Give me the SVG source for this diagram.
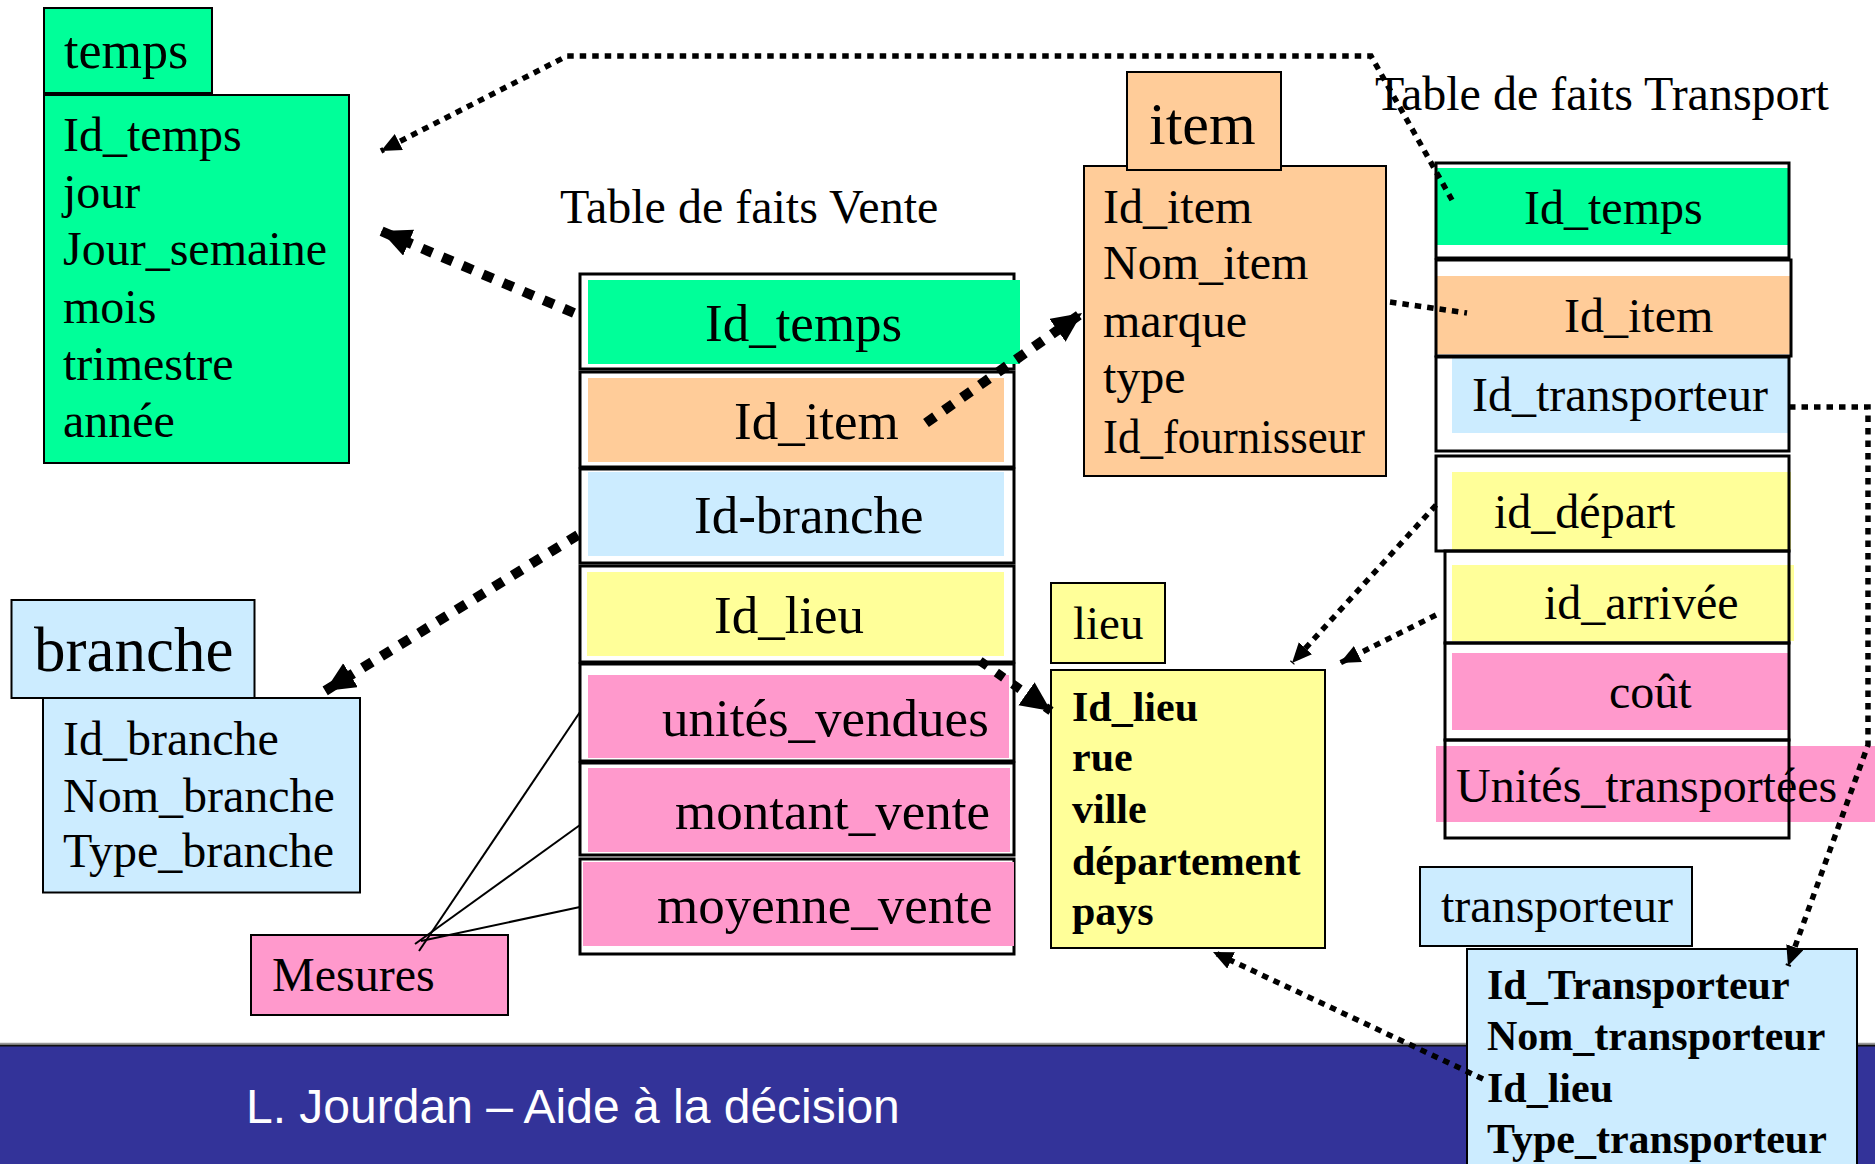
<svg xmlns="http://www.w3.org/2000/svg" width="1875" height="1164" viewBox="0 0 1875 1164">
  <style>
    text { font-family: "Liberation Serif", "Times New Roman", serif; fill: #000; }
    .f48 { font-size: 48px; }
    .f53 { font-size: 53px; }
    .b42 { font-size: 42px; font-weight: bold; }
    .box { stroke: #000; stroke-width: 2; }
    .cell { fill: none; stroke: #000; stroke-width: 3; }
    .green { fill: #00FF99; }
    .orange { fill: #FFCC99; }
    .blue { fill: #CCECFF; }
    .yellow { fill: #FFFF99; }
    .pink { fill: #FF99CC; }
    .dot { fill: none; stroke: #000; }
    .thick { stroke-width: 10; stroke-dasharray: 11 11; }
    .thin { stroke-width: 5.5; stroke-dasharray: 6.5 6; }
    .med { stroke-width: 9; stroke-dasharray: 9 11; }
    .mline { fill: none; stroke: #000; stroke-width: 2; }
  </style>
  <defs>
    <marker id="headL" markerUnits="userSpaceOnUse" markerWidth="32" markerHeight="30" refX="30" refY="14" orient="auto">
      <path d="M0,0 L30,14 L0,28 z" fill="#000"/>
    </marker>
    <marker id="headS" markerUnits="userSpaceOnUse" markerWidth="22" markerHeight="20" refX="20" refY="9" orient="auto">
      <path d="M0,0 L20,9 L0,18 z" fill="#000"/>
    </marker>
  </defs>

  <rect x="0" y="0" width="1875" height="1164" fill="#fff"/>

  <!-- footer band -->
  <g id="footer">
    <rect x="0" y="1045" width="1875" height="119" fill="#333399"/>
    <line x1="0" y1="1043.5" x2="1875" y2="1043.5" stroke="#999" stroke-width="1.5"/>
    <line x1="0" y1="1045.5" x2="1875" y2="1045.5" stroke="#111" stroke-width="2"/>
    <text x="246" y="1123" style="font-family: 'Liberation Sans', Arial, sans-serif; font-size: 48px; fill: #fff;">L. Jourdan – Aide à la décision</text>
  </g>

  <!-- dimension: temps -->
  <g id="temps">
    <rect class="box green" x="44" y="8" width="168" height="85"/>
    <text x="64" y="68" style="font-size: 52px">temps</text>
    <rect class="box green" x="44" y="95" width="305" height="368"/>
    <text class="f48" x="63" y="151">Id_temps</text>
    <text class="f48" x="63" y="208">jour</text>
    <text class="f48" x="63" y="265">Jour_semaine</text>
    <text class="f48" x="63" y="323">mois</text>
    <text class="f48" x="63" y="380">trimestre</text>
    <text class="f48" x="63" y="437">année</text>
  </g>

  <!-- dimension: item -->
  <g id="item">
    <rect class="box orange" x="1084" y="166" width="302" height="310"/>
    <rect class="box orange" x="1127" y="72" width="154" height="98"/>
    <text x="1149" y="144" style="font-size: 60px">item</text>
    <text class="f48" x="1103" y="223">Id_item</text>
    <text class="f48" x="1103" y="279">Nom_item</text>
    <text class="f48" x="1103" y="337">marque</text>
    <text class="f48" x="1103" y="393">type</text>
    <text class="f48" x="1103" y="453" textLength="262" lengthAdjust="spacingAndGlyphs">Id_fournisseur</text>
  </g>

  <!-- dimension: branche -->
  <g id="branche">
    <rect class="box blue" x="11.5" y="600" width="243" height="98"/>
    <text x="34" y="671" style="font-size: 63px">branche</text>
    <rect class="box blue" x="43" y="698" width="317" height="194.5"/>
    <text class="f48" x="63" y="755">Id_branche</text>
    <text class="f48" x="63" y="812">Nom_branche</text>
    <text class="f48" x="63" y="867">Type_branche</text>
  </g>

  <!-- measures label -->
  <g id="mesures">
    <rect class="box pink" x="251" y="935" width="257" height="80"/>
    <text class="f48" x="272" y="991">Mesures</text>
  </g>

  <!-- dimension: lieu -->
  <g id="lieu">
    <rect class="box yellow" x="1051" y="583" width="114" height="80"/>
    <text x="1073" y="639" style="font-size: 47px">lieu</text>
    <rect class="box yellow" x="1051" y="670" width="274" height="278"/>
    <text class="b42" x="1072" y="721">Id_lieu</text>
    <text class="b42" x="1072" y="771">rue</text>
    <text class="b42" x="1072" y="823">ville</text>
    <text class="b42" x="1072" y="875">département</text>
    <text class="b42" x="1072" y="925">pays</text>
  </g>

  <!-- fact table: Vente -->
  <g id="vente">
    <text x="560" y="223" style="font-size: 48px">Table de faits Vente</text>
    <rect class="cell" x="580" y="274" width="434" height="95" fill="#fff"/>
    <rect class="cell" x="580" y="372" width="434" height="95"/>
    <rect class="cell" x="580" y="469" width="434" height="94"/>
    <rect class="cell" x="580" y="566" width="434" height="96"/>
    <rect class="cell" x="580" y="664" width="434" height="97"/>
    <rect class="cell" x="580" y="763" width="434" height="92"/>
    <rect class="cell" x="580" y="859" width="434" height="95"/>
    <rect class="green" x="588" y="280" width="432" height="84"/>
    <rect class="orange" x="588" y="378" width="416" height="84"/>
    <rect class="blue" x="588" y="472" width="416" height="84"/>
    <rect class="yellow" x="587" y="572" width="417" height="84"/>
    <rect class="pink" x="588" y="675" width="421" height="83"/>
    <rect class="pink" x="588" y="768" width="422" height="84"/>
    <rect class="pink" x="583" y="862" width="431" height="84"/>
    <text class="f53" x="705" y="341">Id_temps</text>
    <text class="f53" x="734" y="439">Id_item</text>
    <text class="f53" x="694" y="533">Id-branche</text>
    <text class="f53" x="714" y="633">Id_lieu</text>
    <text class="f53" x="662" y="736">unités_vendues</text>
    <text class="f53" x="675" y="829">montant_vente</text>
    <text class="f53" x="657" y="923">moyenne_vente</text>
  </g>

  <!-- fact table: Transport -->
  <g id="transport">
    <text x="1375" y="110" style="font-size: 48px">Table de faits Transport</text>
    <rect class="green" x="1436" y="168" width="353" height="77"/>
    <rect class="orange" x="1436" y="276" width="355" height="78"/>
    <rect class="blue" x="1452" y="358" width="337" height="75"/>
    <rect class="yellow" x="1452" y="472" width="339" height="78"/>
    <rect class="yellow" x="1452" y="565" width="342" height="76"/>
    <rect class="pink" x="1452" y="653" width="337" height="77"/>
    <rect class="pink" x="1436" y="746" width="439" height="76"/>
    <rect class="cell" x="1436" y="163" width="353" height="95"/>
    <rect class="cell" x="1436" y="260" width="355" height="96"/>
    <rect class="cell" x="1436" y="357" width="353" height="94"/>
    <rect class="cell" x="1436" y="456" width="353" height="95"/>
    <rect class="cell" x="1445" y="551" width="344" height="92"/>
    <rect class="cell" x="1445" y="643" width="344" height="97"/>
    <rect class="cell" x="1445" y="740" width="344" height="98"/>
    <text class="f48" x="1524" y="224">Id_temps</text>
    <text class="f48" x="1564" y="332">Id_item</text>
    <text class="f48" x="1472" y="411">Id_transporteur</text>
    <text class="f48" x="1494" y="528">id_départ</text>
    <text class="f48" x="1544" y="619">id_arrivée</text>
    <text class="f48" x="1609" y="708">coût</text>
    <text class="f48" x="1456" y="802">Unités_transportées</text>
  </g>

  <!-- dimension: transporteur -->
  <g id="transporteur">
    <rect class="box blue" x="1420" y="867" width="272" height="79"/>
    <text class="f48" x="1441" y="922">transporteur</text>
    <rect class="box blue" x="1467" y="949" width="390" height="230"/>
    <text class="b42" x="1487" y="999">Id_Transporteur</text>
    <text class="b42" x="1487" y="1050">Nom_transporteur</text>
    <text class="b42" x="1487" y="1102">Id_lieu</text>
    <text class="b42" x="1487" y="1153">Type_transporteur</text>
  </g>

  <!-- connectors -->
  <g id="connectors">
    <!-- Mesures to the measure rows -->
    <line class="mline" x1="580" y1="712" x2="419" y2="951"/>
    <line class="mline" x1="580" y1="825" x2="415" y2="944"/>
    <line class="mline" x1="580" y1="907" x2="421" y2="941"/>
    <!-- Vente keys to dimensions -->
    <path class="dot thick" d="M574,313 L381,231" marker-end="url(#headL)"/>
    <path class="dot thick" d="M926,423 L1082,313" marker-end="url(#headL)"/>
    <path class="dot thick" d="M578,535 L325,691" marker-end="url(#headL)"/>
    <path class="dot med" d="M980,661 L1051,711" marker-end="url(#headL)"/>
    <!-- Transport keys to dimensions -->
    <path class="dot thin" d="M1452,200 L1371,56 L567,56 L381,151" marker-end="url(#headS)"/>
    <path class="dot thin" d="M1390,302 L1467,313"/>
    <path class="dot thin" d="M1789,407 L1868,407 L1868,745 L1788,966" marker-end="url(#headS)"/>
    <path class="dot thin" d="M1436,505 L1292,663" marker-end="url(#headS)"/>
    <path class="dot thin" d="M1436,615 L1340,663" marker-end="url(#headS)"/>
    <path class="dot thin" d="M1483,1079 L1213,952" marker-end="url(#headS)"/>
  </g>
</svg>
